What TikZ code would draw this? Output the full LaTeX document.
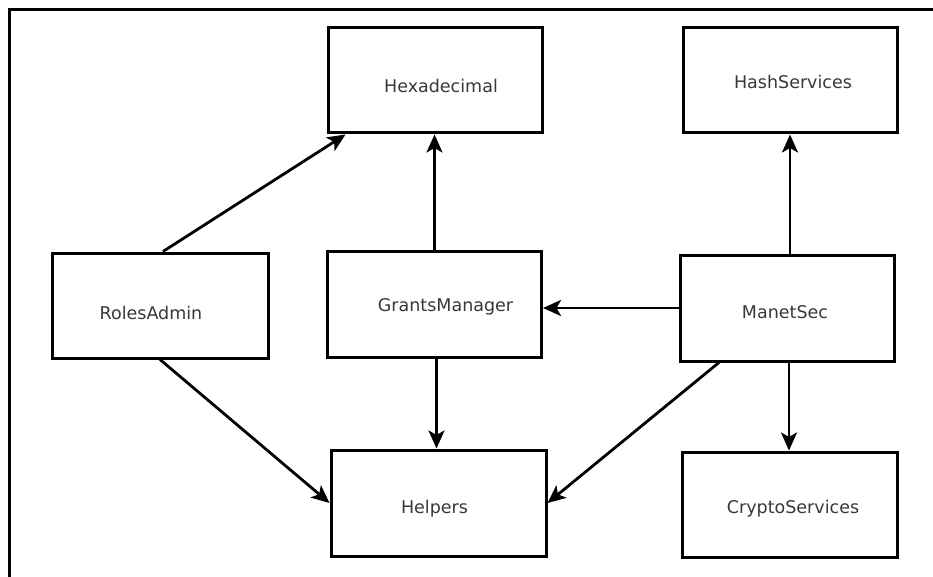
\documentclass[tikz,border=0pt]{standalone}
\usepackage{fontspec}
\setmainfont{DejaVu Sans}
\usetikzlibrary{arrows.meta}

\tikzset{
  box/.style={draw, line width=3pt, minimum width=214pt, minimum height=105pt, inner sep=0pt},
  txt/.style={font=\fontsize{17.5}{20}\selectfont, text=black!78, anchor=base, inner sep=0pt},
  arr/.style={line width=2.8pt, -{Stealth[length=18pt,width=16pt,inset=4.5pt]}}
}

\begin{document}
\begin{tikzpicture}[x=1pt,y=-1pt]
\useasboundingbox (0,0) rectangle (933,577);
% Frame
\draw[line width=3pt] (9,577) -- (9,10) -- (933,10);

% Top row
\node[box, label={[txt,xshift=6pt,yshift=-5.5pt]center:Hexadecimal}] (hex) at (435,80.5) {};
\node[box, label={[txt,xshift=3pt,yshift=-1.5pt]center:HashServices}] (hash) at (790,80.5) {};

% Middle row
\node[box, minimum width=216pt, label={[txt,xshift=-9pt,yshift=-7.5pt]center:RolesAdmin}] (roles) at (160,305.5) {};
\node[box, minimum height=106pt, label={[txt,xshift=11pt,yshift=-3pt]center:GrantsManager}] (grants) at (434.5,304) {};
\node[box, minimum height=106pt, label={[txt,xshift=-2pt,yshift=-4pt]center:ManetSec}] (manet) at (787,308) {};

% Bottom row
\node[box, minimum width=215pt, minimum height=106pt, label={[txt,xshift=-4pt,yshift=-6pt]center:Helpers}] (helpers) at (438.5,503) {};
\node[box, minimum width=215pt, label={[txt,xshift=3.5pt,yshift=-4.5pt]center:CryptoServices}] (crypto) at (789.5,504.5) {};

% Arrows
\draw[arr] ([xshift=3pt]roles.north) -- ([xshift=19pt]hex.south west);
\draw[arr] (grants.north) -- (grants.north |- hex.south);
\draw[arr] (hash.south |- manet.north) -- (hash.south);
\draw[arr] (manet.west) -- (manet.west -| grants.east);
\draw[arr] ([xshift=2pt]grants.south) -- ([xshift=2pt]grants.south |- helpers.north);
\draw[arr] (roles.south) -- (helpers.west);
\draw[arr] ([xshift=-68pt]manet.south) -- (helpers.east);
\draw[arr] ([xshift=2pt]manet.south) -- ([xshift=2pt]manet.south |- crypto.north);
\end{tikzpicture}
\end{document}
